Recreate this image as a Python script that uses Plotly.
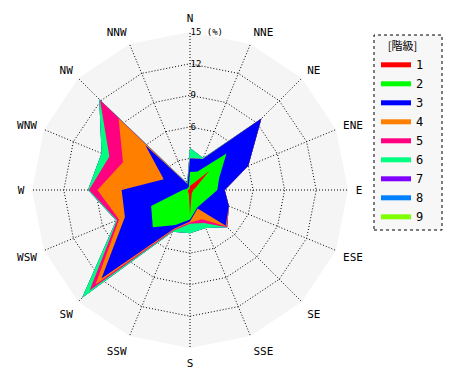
import numpy as np
import plotly.graph_objects as go

directions = ["N", "NNE", "NE", "ENE", "E", "ESE", "SE", "SSE",
              "S", "SSW", "SW", "WSW", "W", "WNW", "NW", "NNW"]
class_labels = ["1", "2", "3", "4", "5", "6", "7", "8", "9"]

# frequency (%) of each wind-speed class per direction
c1 = [0.4, 0.6, 2.6, 0.6, 0.3, 0.3, 0.3, 0.4, 2.4, 0.3, 0.3, 0.2, 0.2, 0.1, 0.1, 0.1]
c2 = [1.3, 1.3, 2.3, 2.4, 2.3, 1.6, 1.4, 1.4, 0.4, 3.3, 4.7, 3.8, 0.5, 0.2, 0.2, 0.2]
c3 = [1.3, 1.3, 4.7, 3.0, 0.7, 2.1, 3.1, 0.1, 0.2, 0.4, 6.9, 2.7, 5.8, 2.4, 5.7, 0.3]
c4 = [0.0, 0.0, 0.0, 0.0, 0.0, 0.0, 0.1, 1.1, 0.1, 0.1, 0.8, 0.6, 2.3, 4.2, 3.6, 0.0]
c5 = [0.0, 0.0, 0.0, 0.0, 0.0, 0.0, 0.1, 0.4, 0.1, 0.1, 0.8, 0.2, 0.8, 1.4, 2.5, 0.0]
c6 = [1.0, 0.1, 0.0, 0.0, 0.0, 0.0, 0.0, 0.5, 0.9, 0.1, 1.0, 0.1, 0.1, 0.8, 0.1, 0.1]
c7 = [0.0] * 16
c8 = [0.0] * 16
c9 = [0.0] * 16

colors = ["#ff0000", "#00ff00", "#0000ff", "#ff8000", "#ff0080",
          "#00ff80", "#8000ff", "#0080ff", "#80ff00"]

radial_ticks = [3, 6, 9, 12, 15]
radial_ticktext = ["3", "6", "9", "12", "15 (%)"]

classes = np.array([c1, c2, c3, c4, c5, c6, c7, c8, c9])
cum = np.cumsum(classes, axis=0)

fig = go.Figure()
theta_closed = directions + [directions[0]]
for i in reversed(range(len(class_labels))):
    r = list(cum[i]) + [cum[i][0]]
    fig.add_trace(go.Scatterpolar(
        r=r, theta=theta_closed, mode="lines", fill="toself",
        fillcolor=colors[i], line=dict(width=0, color=colors[i]),
        showlegend=False, hoverinfo="skip"))

for i, lab in enumerate(class_labels):
    fig.add_trace(go.Scatterpolar(
        r=[None], theta=[directions[0]], mode="lines",
        line=dict(color=colors[i], width=5), name=lab))

W, H = 470, 380
DOT = "1px,2px"
fig.update_layout(
    width=W, height=H,
    margin=dict(l=0, r=0, t=0, b=0),
    paper_bgcolor="white",
    font=dict(family="DejaVu Sans Mono, Noto Sans CJK JP", size=11, color="black"),
    polar=dict(
        domain=dict(x=[32 / W, 348 / W], y=[32 / H, 348 / H]),
        bgcolor="#f5f5f5",
        gridshape="linear",
        angularaxis=dict(
            type="category", categoryarray=directions,
            direction="clockwise", rotation=90,
            showgrid=True, gridcolor="black", griddash=DOT, gridwidth=1,
            showline=False, ticks="outside", ticklen=5,
            tickcolor="rgba(0,0,0,0)",
            tickfont=dict(family="DejaVu Sans Mono", size=11, color="black"),
            layer="below traces"),
        radialaxis=dict(
            range=[0, 15.02], tickvals=radial_ticks, ticktext=radial_ticktext,
            showline=False, showgrid=True, gridcolor="black", griddash=DOT,
            gridwidth=1, angle=90, tickangle=90, ticks="",
            tickfont=dict(family="DejaVu Sans Mono", size=9, color="black"),
            layer="below traces", side="clockwise"),
    ),
    legend=dict(
        x=376 / W, y=1 - 36 / H, xanchor="left", yanchor="top",
        bgcolor="rgba(0,0,0,0)", borderwidth=0,
        title=dict(text="[階級]", side="top center",
                   font=dict(family="Noto Sans CJK JP", size=11)),
        font=dict(family="DejaVu Sans Mono", size=12),
        itemwidth=30, tracegroupgap=0,
    ),
    shapes=[dict(type="rect", xref="paper", yref="paper",
                 x0=374 / W, x1=442 / W, y0=1 - 230 / H, y1=1 - 35 / H,
                 line=dict(color="black", width=1, dash="dot"),
                 fillcolor="#f7f7f7", layer="below")],
)

fig.write_html("out.html")
